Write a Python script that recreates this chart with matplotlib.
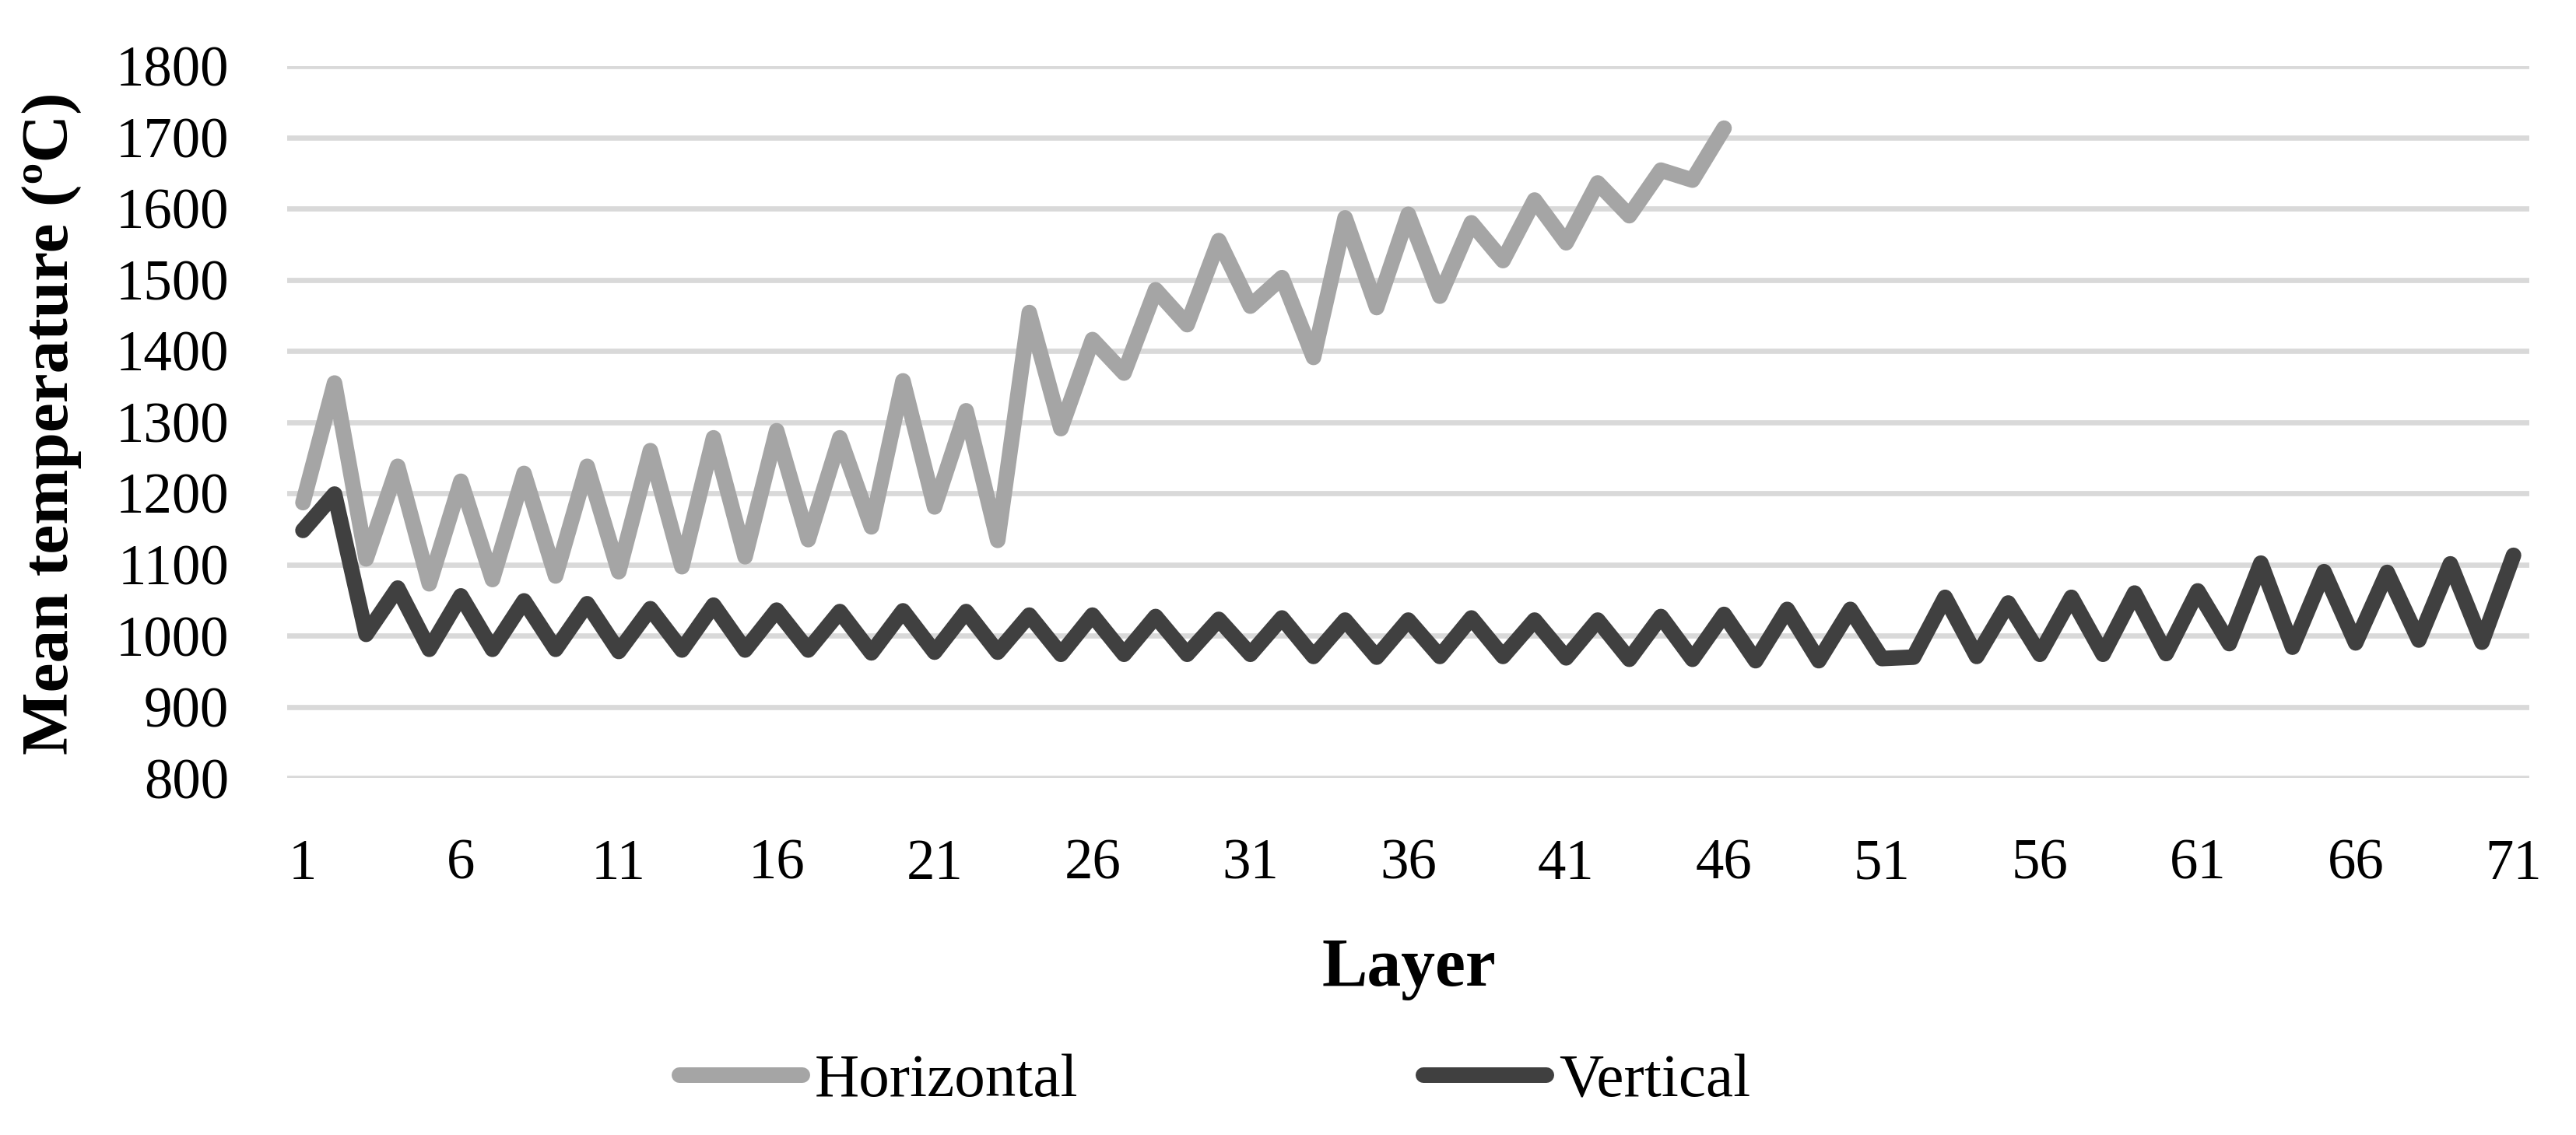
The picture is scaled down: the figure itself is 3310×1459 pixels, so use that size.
import matplotlib
matplotlib.use("Agg")
import matplotlib.pyplot as plt

layers = list(range(1, 72))
horizontal = [1187, 1355, 1108, 1238, 1073, 1217, 1079, 1228, 1084, 1238,
              1090, 1260, 1097, 1278, 1111, 1288, 1135, 1278, 1153, 1358,
              1181, 1316, 1134, 1454, 1291, 1416, 1369, 1486, 1437, 1555,
              1463, 1503, 1391, 1587, 1461, 1592, 1477, 1580, 1527, 1612,
              1552, 1636, 1590, 1654, 1640, 1713]
vertical = [1148, 1199, 1002, 1067, 981, 1056, 981, 1049, 981, 1045,
            978, 1038, 980, 1043, 980, 1036, 980, 1034, 976, 1035,
            977, 1034, 977, 1029, 974, 1029, 974, 1027, 974, 1023,
            974, 1025, 971, 1022, 970, 1022, 971, 1025, 971, 1022,
            969, 1022, 967, 1027, 967, 1030, 965, 1037, 965, 1037,
            968, 970, 1054, 971, 1046, 974, 1054, 974, 1060, 975,
            1063, 989, 1102, 984, 1090, 990, 1089, 994, 1101, 991,
            1113]
series_names = ["Horizontal", "Vertical"]
series_colors = ["#A5A5A5", "#404040"]
y_ticks = list(range(800, 1900, 100))
x_ticks = list(range(1, 72, 5))

plt.rcParams['font.family'] = ['Liberation Serif', 'DejaVu Serif']

W, H, DPI = 3310, 1459, 300
fig = plt.figure(figsize=(W / DPI, H / DPI), dpi=DPI)
ax = fig.add_axes([369 / W, 1 - 1000.3 / H, (3250 - 369) / W, (1000.3 - 85.1) / H])

lw = 20 / DPI * 72
ax.plot(layers[:len(horizontal)], horizontal, color=series_colors[0], lw=lw,
        solid_joinstyle='round', solid_capstyle='round', label=series_names[0], zorder=3)
ax.plot(layers, vertical, color=series_colors[1], lw=lw,
        solid_joinstyle='round', solid_capstyle='round', label=series_names[1], zorder=4)

ax.set_xlim(0.5, 71.5)
ax.set_ylim(800, 1800)
ax.set_yticks(y_ticks)
ax.set_xticks(x_ticks)
ax.set_xticklabels([str(v) for v in x_ticks])
ax.set_yticklabels([str(v) for v in y_ticks])
ax.grid(axis='y', color='#D9D9D9', lw=6.7 / DPI * 72, zorder=0)
ax.set_axisbelow(True)
for s in ax.spines.values():
    s.set_visible(False)
ax.tick_params(axis='both', length=0, labelsize=17.5)
ax.tick_params(axis='y', pad=75 / DPI * 72)
ax.tick_params(axis='x', pad=78 / DPI * 72)

fig.text(67 / W, 1 - 544 / H, "Mean temperature (ºC)", rotation=90,
         ha='center', va='center', fontsize=20.5, fontweight='bold')
fig.text(1810 / W, 1 - 1267 / H, "Layer", ha='center', va='baseline',
         fontsize=21, fontweight='bold')

fig.legend(loc='center left', bbox_to_anchor=(873 / W, 1 - 1390 / H), ncol=2,
           frameon=False, fontsize=19, handlelength=2.0, handletextpad=0.2,
           columnspacing=5.6, borderaxespad=0, borderpad=0)

fig.savefig("out.png", dpi=DPI)
